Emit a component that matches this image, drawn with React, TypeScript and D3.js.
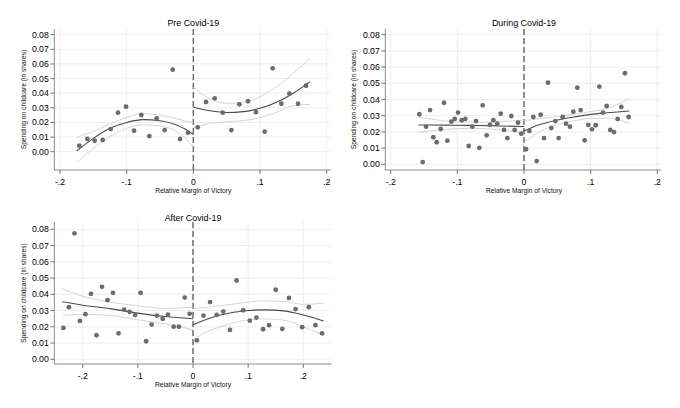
import { useRef, useEffect } from "react";
import * as d3 from "d3";

// ---- tick values / labels ----
const yTickValues = [0, 0.01, 0.02, 0.03, 0.04, 0.05, 0.06, 0.07, 0.08];
const yTickLabels = ["0.00", "0.01", "0.02", "0.03", "0.04", "0.05", "0.06", "0.07", "0.08"];
const xTickValues = [-0.2, -0.1, 0, 0.1, 0.2];
const xTickLabels = ["-.2", "-.1", "0", ".1", ".2"];

// ---- Pre Covid-19 ----
const preX = [
  -0.171, -0.159, -0.148, -0.136, -0.124, -0.113, -0.101, -0.089, -0.078, -0.066, -0.055, -0.043, -0.031, -0.02, -0.008,
  0.0065, 0.019, 0.032, 0.044, 0.057, 0.069, 0.082, 0.094, 0.107, 0.119, 0.132, 0.144, 0.157, 0.169,
];
const preY = [
  0.0041, 0.0087, 0.0075, 0.008, 0.0155, 0.0267, 0.0308, 0.0144, 0.0251, 0.0107, 0.0228, 0.0148, 0.0561, 0.0087, 0.013,
  0.0167, 0.034, 0.0365, 0.0267, 0.0148, 0.0324, 0.0345, 0.027, 0.0137, 0.057, 0.0328, 0.0397, 0.0328, 0.0451,
];
const preFitLX = [-0.175, -0.15, -0.125, -0.1, -0.075, -0.05, -0.025, -0.0125, 0];
const preFitL = [0.0005, 0.0091, 0.016, 0.02, 0.0219, 0.0212, 0.0183, 0.0155, 0.0118];
const preHiL = [0.0098, 0.014, 0.019, 0.0235, 0.026, 0.025, 0.0225, 0.021, 0.0198];
const preLoL = [-0.0075, 0.0023, 0.0103, 0.016, 0.0183, 0.0176, 0.0137, 0.0095, 0.003];
const preFitRX = [0, 0.025, 0.05, 0.075, 0.1, 0.125, 0.15, 0.175];
const preFitR = [0.0304, 0.028, 0.0268, 0.0274, 0.0297, 0.0338, 0.04, 0.0479];
const preHiR = [0.044, 0.036, 0.0331, 0.0338, 0.0376, 0.0445, 0.0536, 0.0639];
const preLoR = [0.0165, 0.0194, 0.0205, 0.0212, 0.0233, 0.027, 0.0315, 0.0324];

// ---- During Covid-19 ----
const durX = [
  -0.157, -0.152, -0.147, -0.141, -0.136, -0.131, -0.125, -0.12, -0.115, -0.109, -0.104, -0.099, -0.0935, -0.088, -0.083,
  -0.0775, -0.072, -0.067, -0.062, -0.056, -0.051, -0.046, -0.04, -0.035, -0.03, -0.025, -0.019, -0.014, -0.009, -0.004,
  0.003, 0.008, 0.014, 0.019, 0.025, 0.03, 0.036, 0.041, 0.047, 0.052, 0.058, 0.063, 0.069, 0.074, 0.08, 0.085, 0.091,
  0.0965, 0.102, 0.1075, 0.113, 0.1185, 0.124, 0.1295, 0.135, 0.1405, 0.146, 0.1515, 0.157,
];
const durY = [
  0.0309, 0.0014, 0.0232, 0.0335, 0.0167, 0.0136, 0.0218, 0.038, 0.0146, 0.0263, 0.028, 0.0319, 0.0272, 0.028, 0.0113,
  0.0232, 0.0267, 0.0102, 0.0364, 0.0179, 0.0244, 0.0272, 0.0251, 0.0312, 0.0212, 0.0162, 0.0298, 0.0212, 0.0257, 0.0189,
  0.0093, 0.0206, 0.0292, 0.002, 0.0306, 0.0162, 0.0504, 0.0224, 0.0267, 0.0162, 0.0292, 0.0251, 0.0232, 0.0325, 0.0473,
  0.0335, 0.0148, 0.0243, 0.0216, 0.0241, 0.0479, 0.0319, 0.036, 0.0212, 0.0199, 0.028, 0.0354, 0.0562, 0.0292,
];
const durFitLX = [-0.158, -0.12, -0.08, -0.04, 0];
const durFitL = [0.0243, 0.0242, 0.024, 0.0237, 0.0233];
const durHiL = [0.0292, 0.0268, 0.0259, 0.0262, 0.0274];
const durLoL = [0.0198, 0.0215, 0.0222, 0.0214, 0.0192];
const durFitRX = [0, 0.025, 0.05, 0.075, 0.1, 0.125, 0.158];
const durFitR = [0.0206, 0.0247, 0.0273, 0.0292, 0.0308, 0.0318, 0.0329];
const durHiR = [0.027, 0.0282, 0.0295, 0.031, 0.0325, 0.0345, 0.0405];
const durLoR = [0.0135, 0.0205, 0.0245, 0.0268, 0.0283, 0.0285, 0.0253];

// ---- After Covid-19 ----
const aftX = [
  -0.235, -0.225, -0.215, -0.205, -0.195, -0.185, -0.175, -0.165, -0.155, -0.145, -0.135, -0.125, -0.115, -0.105, -0.095,
  -0.085, -0.075, -0.0655, -0.055, -0.0455, -0.035, -0.0257, -0.015, -0.006,
  0.007, 0.019, 0.031, 0.043, 0.055, 0.067, 0.079, 0.091, 0.103, 0.115, 0.127, 0.138, 0.15, 0.162, 0.174, 0.186, 0.198,
  0.21, 0.222, 0.234,
];
const aftY = [
  0.0193, 0.0321, 0.0775, 0.0236, 0.0278, 0.0403, 0.0148, 0.0446, 0.0364, 0.0409, 0.016, 0.0306, 0.0292, 0.0272, 0.0409,
  0.0111, 0.0214, 0.0269, 0.0249, 0.0275, 0.0201, 0.0201, 0.038, 0.028,
  0.0117, 0.0269, 0.0352, 0.0273, 0.0294, 0.0181, 0.0485, 0.0302, 0.0238, 0.0257, 0.0185, 0.021, 0.0428, 0.0187, 0.0378,
  0.0309, 0.0198, 0.0321, 0.021, 0.016,
];
const aftFitLX = [-0.237, -0.2, -0.15, -0.1, -0.05, 0];
const aftFitL = [0.0354, 0.0333, 0.0312, 0.0284, 0.0263, 0.025];
const aftHiL = [0.0434, 0.0388, 0.0352, 0.0329, 0.0313, 0.0321];
const aftLoL = [0.027, 0.0276, 0.027, 0.0243, 0.0218, 0.0181];
const aftFitRX = [0, 0.025, 0.05, 0.1, 0.13, 0.165, 0.2, 0.237];
const aftFitR = [0.0212, 0.0247, 0.0273, 0.03, 0.0304, 0.0298, 0.0273, 0.0236];
const aftHiR = [0.0312, 0.032, 0.033, 0.0352, 0.036, 0.0355, 0.0338, 0.0345];
const aftLoR = [0.0119, 0.017, 0.02, 0.0243, 0.0249, 0.024, 0.02, 0.0148];

const FONT = "'Liberation Sans', Arial, Helvetica, sans-serif";

const panels = [
  {
    title: "Pre Covid-19",
    xs: preX, ys: preY,
    left: { x: preFitLX, fit: preFitL, hi: preHiL, lo: preLoL },
    right: { x: preFitRX, fit: preFitR, hi: preHiR, lo: preLoR },
    left0: 54.3, right0: 331, top: 29, bottom: 170,
    xr: [60, 326.7], yr: [151.7, 34.7], titleY: 26, labelX: 23.5,
  },
  {
    title: "During Covid-19",
    xs: durX, ys: durY,
    left: { x: durFitLX, fit: durFitL, hi: durHiL, lo: durLoL },
    right: { x: durFitRX, fit: durFitR, hi: durHiR, lo: durLoR },
    left0: 385.3, right0: 661, top: 29, bottom: 170,
    xr: [390.7, 657.3], yr: [164.3, 34.7], titleY: 26, labelX: 354,
  },
  {
    title: "After Covid-19",
    xs: aftX, ys: aftY,
    left: { x: aftFitLX, fit: aftFitL, hi: aftHiL, lo: aftLoL },
    right: { x: aftFitRX, fit: aftFitR, hi: aftHiR, lo: aftLoR },
    left0: 54.3, right0: 331.7, top: 222, bottom: 364,
    xr: [82.7, 303.3], yr: [359.3, 229.3], titleY: 221, labelX: 23.5,
  },
];

function drawPanel(svg: any, p: any) {
  const x = d3.scaleLinear().domain([-0.2, 0.2]).range(p.xr);
  const y = d3.scaleLinear().domain([0, 0.08]).range(p.yr);
  const g = svg.append("g");

  // grid
  g.selectAll(".hgrid")
    .data(yTickValues)
    .enter()
    .append("line")
    .attr("x1", p.left0 + 1)
    .attr("x2", p.right0)
    .attr("y1", (d: number) => y(d))
    .attr("y2", (d: number) => y(d))
    .attr("stroke", "#e9e9e9")
    .attr("stroke-width", 0.8);
  g.selectAll(".vgrid")
    .data(xTickValues)
    .enter()
    .append("line")
    .attr("x1", (d: number) => x(d))
    .attr("x2", (d: number) => x(d))
    .attr("y1", p.top)
    .attr("y2", p.bottom - 1)
    .attr("stroke", "#e9e9e9")
    .attr("stroke-width", 0.8);

  // axis lines
  g.append("line")
    .attr("x1", p.left0).attr("x2", p.left0)
    .attr("y1", p.top).attr("y2", p.bottom)
    .attr("stroke", "#8c8c8c").attr("stroke-width", 1);
  g.append("line")
    .attr("x1", p.left0).attr("x2", p.right0)
    .attr("y1", p.bottom).attr("y2", p.bottom)
    .attr("stroke", "#8c8c8c").attr("stroke-width", 1);

  // y ticks
  yTickValues.forEach((v, i) => {
    g.append("line")
      .attr("x1", p.left0 - 4).attr("x2", p.left0)
      .attr("y1", y(v)).attr("y2", y(v))
      .attr("stroke", "#555").attr("stroke-width", 0.8);
    g.append("text")
      .attr("x", p.left0 - 5.5)
      .attr("y", y(v))
      .attr("dy", "0.35em")
      .attr("text-anchor", "end")
      .style("font-family", FONT)
      .style("font-size", "8.7px")
      .attr("fill", "#000")
      .text(yTickLabels[i]);
  });
  // x ticks
  xTickValues.forEach((v, i) => {
    g.append("line")
      .attr("x1", x(v)).attr("x2", x(v))
      .attr("y1", p.bottom).attr("y2", p.bottom + 4)
      .attr("stroke", "#555").attr("stroke-width", 0.8);
    g.append("text")
      .attr("x", x(v))
      .attr("y", p.bottom + 14.5)
      .attr("text-anchor", "middle")
      .style("font-family", FONT)
      .style("font-size", "8.7px")
      .attr("fill", "#000")
      .text(xTickLabels[i]);
  });

  // cutoff line
  g.append("line")
    .attr("x1", x(0)).attr("x2", x(0))
    .attr("y1", p.top).attr("y2", p.bottom)
    .attr("stroke", "#6e6e6e")
    .attr("stroke-width", 1.5)
    .attr("stroke-dasharray", "6,3");

  // fits + CI
  const line = (xs: number[], vs: number[]) =>
    d3
      .line<number>()
      .x((_, i) => x(xs[i]))
      .y((d) => y(d))
      .curve(d3.curveMonotoneX)(vs);
  [p.left, p.right].forEach((s: any) => {
    g.append("path").attr("d", line(s.x, s.hi)).attr("fill", "none").attr("stroke", "#cfcfcf").attr("stroke-width", 0.9);
    g.append("path").attr("d", line(s.x, s.lo)).attr("fill", "none").attr("stroke", "#cfcfcf").attr("stroke-width", 0.9);
    g.append("path").attr("d", line(s.x, s.fit)).attr("fill", "none").attr("stroke", "#4a4a4a").attr("stroke-width", 1.1);
  });

  // points
  g.selectAll(".pt")
    .data(p.xs)
    .enter()
    .append("circle")
    .attr("cx", (d: number) => x(d))
    .attr("cy", (_: number, i: number) => y(p.ys[i]))
    .attr("r", 2.4)
    .attr("fill", "#6c6c6c");

  // titles
  g.append("text")
    .attr("x", x(0))
    .attr("y", p.titleY)
    .attr("text-anchor", "middle")
    .style("font-family", FONT)
    .style("font-size", "8.9px")
    .attr("fill", "#000")
    .text(p.title);
  g.append("text")
    .attr("x", x(0))
    .attr("y", p.bottom + 22.5)
    .attr("text-anchor", "middle")
    .style("font-family", FONT)
    .style("font-size", "6.7px")
    .attr("fill", "#111")
    .text("Relative Margin of Victory");
  g.append("text")
    .attr("transform", `translate(${p.labelX},${(p.top + p.bottom) / 2}) rotate(-90)`)
    .attr("text-anchor", "middle")
    .attr("dy", "0.35em")
    .style("font-family", FONT)
    .style("font-size", "6.7px")
    .attr("fill", "#111")
    .text("Spending on childcare (in shares)");
}

export default function App() {
  const svgRef = useRef<SVGSVGElement | null>(null);

  useEffect(() => {
    const svg = d3.select(svgRef.current);
    svg.selectAll("*").remove();
    svg.append("rect").attr("width", 680).attr("height", 408).attr("fill", "#fff");
    panels.forEach((p) => drawPanel(svg, p));
  }, []);

  return (
    <svg
      ref={svgRef}
      width={680}
      height={408}
      style={{ position: "absolute", top: 0, left: 0 }}
    />
  );
}
